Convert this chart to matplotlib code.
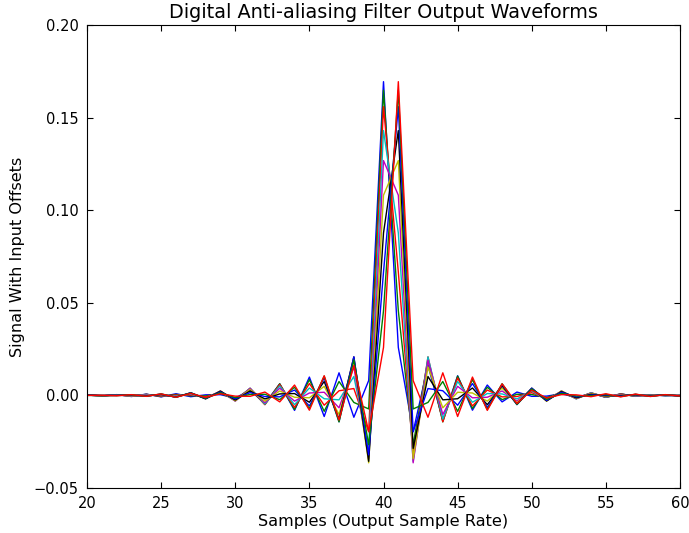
import numpy as np
import matplotlib
matplotlib.use("Agg")
import matplotlib.pyplot as plt

# Output sample index (x axis)
samples = list(range(20, 61))

# Filter output for each input offset, in units of 1e-4
SCALE = 1e-4
offset_1 = [2, -3, 4, -6, 7, -8, 9, -7, 3, 4, -14, 28, -44, 62, -81, 99, -114, 122, -118, 80,
            1694, 259, -196, 162, -133, 106, -80, 56, -35, 18, -5, -4, 9, -11, 11, -10, 8, -5, 4, -2, 1]
offset_2 = [2, -3, 4, -5, 6, -6, 5, -2, -3, 11, -22, 35, -49, 63, -76, 85, -86, 75, -38, -73,
            1648, 457, -266, 192, -143, 104, -71, 44, -23, 6, 5, -12, 15, -15, 13, -10, 8, -5, 3, -1, 0]
offset_3 = [2, -3, 4, -4, 5, -4, 2, 2, -8, 17, -27, 39, -50, 59, -65, 64, -53, 25, 37, -196,
            1559, 666, -321, 208, -142, 94, -57, 29, -8, -6, 15, -19, 19, -17, 14, -10, 7, -4, 2, 0, 0]
offset_4 = [2, -3, 3, -3, 3, -1, -2, 6, -13, 21, -30, 39, -47, 51, -50, 40, -18, -24, 102, -286,
            1430, 877, -356, 208, -128, 75, -37, 10, 8, -19, 24, -25, 23, -19, 14, -9, 5, -3, 1, 0, -1]
offset_5 = [2, -2, 2, -2, 1, 1, -5, 10, -16, 24, -31, 37, -40, 39, -31, 13, 17, -67, 154, -342,
            1268, 1081, -364, 190, -103, 49, -13, -10, 24, -31, 32, -29, 24, -18, 12, -7, 4, -1, -1, 1, -2]
offset_6 = [2, -2, 1, -1, -1, 4, -7, 12, -18, 24, -29, 32, -31, 24, -10, -13, 49, -103, 190, -364,
            1081, 1268, -342, 154, -67, 17, 13, -31, 39, -40, 37, -31, 24, -16, 10, -5, 1, 1, -2, 2, -2]
offset_7 = [2, -1, 0, 1, -3, 5, -9, 14, -19, 23, -25, 24, -19, 8, 10, -37, 75, -128, 208, -356,
            877, 1430, -286, 102, -24, -18, 40, -50, 51, -47, 39, -30, 21, -13, 6, -2, -1, 3, -3, 3, -3]
offset_8 = [1, 0, 0, 2, -4, 7, -10, 14, -17, 19, -19, 15, -6, -8, 29, -57, 94, -142, 208, -321,
            666, 1559, -196, 37, 25, -53, 64, -65, 59, -50, 39, -27, 17, -8, 2, 2, -4, 5, -4, 4, -3]
offset_9 = [0, 0, -1, 3, -5, 8, -10, 13, -15, 15, -12, 5, 6, -23, 44, -71, 104, -143, 192, -266,
            457, 1648, -73, -38, 75, -86, 85, -76, 63, -49, 35, -22, 11, -3, -2, 5, -6, 6, -5, 4, -3]
offset_10 = [0, 1, -2, 4, -5, 8, -10, 11, -11, 9, -4, -5, 18, -35, 56, -80, 106, -133, 162, -196,
             259, 1694, 80, -118, 122, -114, 99, -81, 62, -44, 28, -14, 4, 3, -7, 9, -8, 7, -6, 4, -3]

all_series = [offset_1, offset_2, offset_3, offset_4, offset_5,
              offset_6, offset_7, offset_8, offset_9, offset_10]
colors = ['b', 'g', 'r', 'c', 'm', 'y', 'k', 'b', 'g', 'r']

fig = plt.figure(figsize=(6.89, 5.33), dpi=100)
ax = fig.add_axes([87/689, 1-488/533, (680-87)/689, (488-25)/533])
for s, col in zip(all_series, colors):
    ax.plot(samples, np.array(s) * SCALE, color=col, lw=1.0)

ax.set_xlim(20, 60)
ax.set_ylim(-0.05, 0.20)
ax.set_xticks([20, 25, 30, 35, 40, 45, 50, 55, 60])
ax.set_yticks([-0.05, 0.0, 0.05, 0.10, 0.15, 0.20])
ax.yaxis.set_major_formatter(plt.FormatStrFormatter('%.2f'))
ax.set_yticklabels(['\u22120.05', '0.00', '0.05', '0.10', '0.15', '0.20'])
ax.tick_params(direction='in', top=True, right=True, labelsize=10.5, length=4, pad=6)
ax.set_title('Digital Anti-aliasing Filter Output Waveforms', fontsize=13.9, pad=5)
ax.set_xlabel('Samples (Output Sample Rate)', fontsize=11.6, labelpad=2)
ax.set_ylabel('Signal With Input Offsets', fontsize=11.6, labelpad=6)
fig.savefig('out.png', dpi=100)
